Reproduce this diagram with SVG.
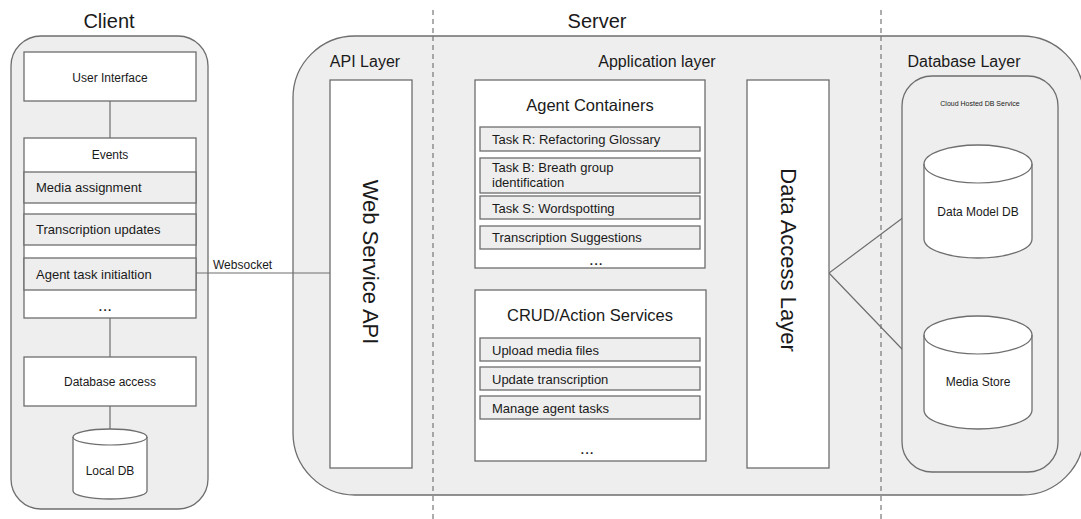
<svg xmlns="http://www.w3.org/2000/svg" width="1081" height="519" viewBox="0 0 1081 519">
  <style>
    text { font-family: "Liberation Sans", Arial, sans-serif; fill: #1a1a1a; }
    .shell { fill: #eeeeee; stroke: #6e6e6e; stroke-width: 1.3; }
    .box { fill: #ffffff; stroke: #6e6e6e; stroke-width: 1.3; }
    .row { fill: #eeeeee; stroke: #6e6e6e; stroke-width: 1.3; }
    .link { fill: none; stroke: #6e6e6e; stroke-width: 1.2; }
    .divider { fill: none; stroke: #777777; stroke-width: 1.2; stroke-dasharray: 5 4; }
    .title { font-size: 20px; text-anchor: middle; }
    .layer { font-size: 16px; text-anchor: middle; }
    .small { font-size: 12px; text-anchor: middle; }
    .dots { font-size: 17px; text-anchor: middle; }
    .item { font-size: 13px; }
    .head { font-size: 16.5px; text-anchor: middle; }
    .vert { font-size: 22px; text-anchor: middle; }
  </style>

  <!-- tier dividers -->
  <g id="dividers">
    <line class="divider" x1="433" y1="10" x2="433" y2="519"/>
    <line class="divider" x1="881" y1="10" x2="881" y2="519"/>
  </g>

  <!-- client tier -->
  <g id="client">
    <text class="title" x="109" y="28">Client</text>
    <rect class="shell" x="11" y="36" width="197" height="473" rx="30" ry="30"/>
  </g>

  <!-- server tier -->
  <g id="server">
    <text class="title" x="597" y="28">Server</text>
    <rect class="shell" x="293" y="36" width="791" height="459" rx="62" ry="62"/>
    <text class="layer" x="365" y="67">API Layer</text>
    <text class="layer" x="657" y="67">Application layer</text>
    <text class="layer" x="964" y="67">Database Layer</text>
  </g>

  <!-- dividers drawn again over the server shell -->
  <g id="dividers-front">
    <line class="divider" x1="433" y1="36" x2="433" y2="495"/>
    <line class="divider" x1="881" y1="36" x2="881" y2="495"/>
  </g>

  <g id="connectors">
    <line class="link" x1="110" y1="101" x2="110" y2="138"/>
    <line class="link" x1="110" y1="318" x2="110" y2="357"/>
    <line class="link" x1="110" y1="406" x2="110" y2="430"/>
    <line class="link" x1="196" y1="273" x2="330" y2="273"/>
    <text x="213" y="269" style="font-size:12px">Websocket</text>
    <polyline class="link" points="924,202 829,273 924,372"/>
  </g>

  <g id="user-interface">
    <rect class="box" x="24" y="52" width="172" height="49"/>
    <text class="small" x="110" y="82">User Interface</text>
  </g>

  <g id="events">
    <rect class="box" x="24" y="138" width="172" height="180"/>
    <text class="small" x="110" y="159">Events</text>
    <rect class="row" x="24" y="172" width="172" height="31"/>
    <text class="item" x="36" y="192">Media assignment</text>
    <rect class="row" x="24" y="214" width="172" height="31"/>
    <text class="item" x="36" y="234">Transcription updates</text>
    <rect class="row" x="24" y="258" width="172" height="32"/>
    <text class="item" x="36" y="279">Agent task initialtion</text>
    <text class="dots" x="105" y="311">...</text>
  </g>

  <g id="database-access">
    <rect class="box" x="24" y="357" width="172" height="49"/>
    <text class="small" x="110" y="386">Database access</text>
  </g>

  <g id="local-db">
    <path class="box" d="M73,437 a37,8 0 0 1 74,0 v54 a37,8 0 0 1 -74,0 z"/>
    <path class="link" d="M73,437 a37,8 0 0 0 74,0"/>
    <text class="small" x="110" y="475">Local DB</text>
  </g>

  <g id="web-service-api">
    <rect class="box" x="330" y="80" width="82" height="388"/>
    <text class="vert" transform="translate(363,262) rotate(90)">Web Service API</text>
  </g>

  <g id="agent-containers">
    <rect class="box" x="475" y="80" width="230" height="188"/>
    <text class="head" x="590" y="111">Agent Containers</text>
    <rect class="row" x="480" y="127" width="220" height="24"/>
    <text class="item" x="492" y="144">Task R: Refactoring Glossary</text>
    <rect class="row" x="480" y="158" width="220" height="35"/>
    <text class="item" x="492" y="172">Task B: Breath group</text>
    <text class="item" x="492" y="187">identification</text>
    <rect class="row" x="480" y="196" width="220" height="23"/>
    <text class="item" x="492" y="213">Task S: Wordspotting</text>
    <rect class="row" x="480" y="226" width="220" height="23"/>
    <text class="item" x="492" y="242">Transcription Suggestions</text>
    <text class="dots" x="596" y="265">...</text>
  </g>

  <g id="crud-services">
    <rect class="box" x="475" y="290" width="231" height="171"/>
    <text class="head" x="590" y="321">CRUD/Action Services</text>
    <rect class="row" x="480" y="338" width="220" height="23"/>
    <text class="item" x="492" y="355">Upload media files</text>
    <rect class="row" x="480" y="367" width="220" height="23"/>
    <text class="item" x="492" y="384">Update transcription</text>
    <rect class="row" x="480" y="396" width="220" height="23"/>
    <text class="item" x="492" y="413">Manage agent tasks</text>
    <text class="dots" x="587" y="454">...</text>
  </g>

  <g id="data-access-layer">
    <rect class="box" x="747" y="80" width="82" height="388"/>
    <text class="vert" transform="translate(781,260) rotate(90)">Data Access Layer</text>
  </g>

  <g id="cloud-db-service">
    <rect class="shell" x="902" y="76" width="156" height="396" rx="30" ry="30"/>
    <text x="980" y="106" style="font-size:7px;text-anchor:middle">Cloud Hosted DB Service</text>
  </g>

  <g id="data-model-db">
    <path class="box" d="M924,164 a54,19 0 0 1 108,0 v75 a54,19 0 0 1 -108,0 z"/>
    <path class="link" d="M924,164 a54,19 0 0 0 108,0"/>
    <text class="small" x="978" y="216">Data Model DB</text>
  </g>

  <g id="media-store">
    <path class="box" d="M924,335 a54,19 0 0 1 108,0 v75 a54,19 0 0 1 -108,0 z"/>
    <path class="link" d="M924,335 a54,19 0 0 0 108,0"/>
    <text class="small" x="978" y="386">Media Store</text>
  </g>
</svg>
